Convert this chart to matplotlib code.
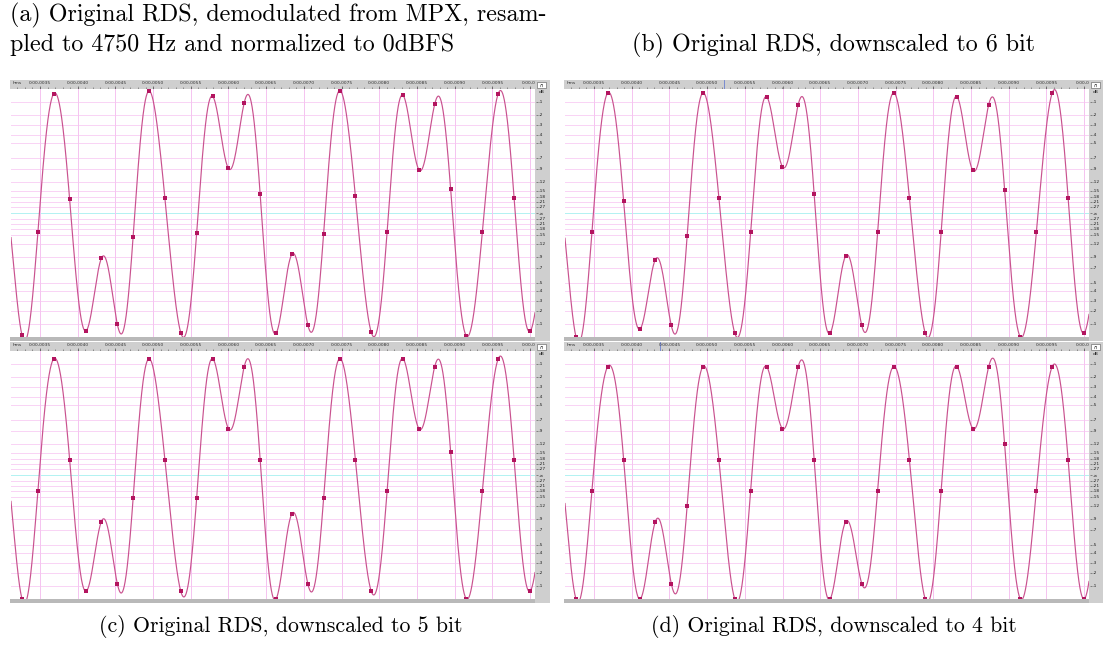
import numpy as np
import matplotlib.pyplot as plt
from matplotlib.patches import Rectangle

W, H = 1103, 646

# RDS samples, 4750 Hz, first sample time in seconds
fs = 4750
t_first = 0.0030511

orig = [0.127, -0.986, -0.153, 0.963, 0.110, -0.952, -0.365, -0.895, -0.190, 0.984,
        0.121, -0.965, -0.164, 0.941, 0.360, 0.890, 0.156, -0.970, -0.333, -0.900,
        -0.166, 0.987, 0.137, -0.962, -0.150, 0.949, 0.350, 0.879, 0.197, -0.992,
        -0.150, 0.963, 0.121, -0.954, -0.156]
bit6 = [0.125, -1.0, -0.15625, 0.96875, 0.09375, -0.9375, -0.375, -0.90625, -0.1875, 0.96875,
        0.125, -0.96875, -0.15625, 0.9375, 0.375, 0.875, 0.15625, -0.96875, -0.34375, -0.90625,
        -0.15625, 0.96875, 0.125, -0.96875, -0.15625, 0.9375, 0.34375, 0.875, 0.1875, -1.0,
        -0.15625, 0.96875, 0.125, -0.96875, -0.15625]
bit5 = [0.125, -1.0, -0.125, 0.9375, 0.125, -0.9375, -0.375, -0.875, -0.1875, 0.9375,
        0.125, -0.9375, -0.1875, 0.9375, 0.375, 0.875, 0.125, -1.0, -0.3125, -0.875,
        -0.1875, 0.9375, 0.125, -0.9375, -0.125, 0.9375, 0.375, 0.875, 0.1875, -1.0,
        -0.125, 0.9375, 0.125, -0.9375, -0.125]
bit4 = [0.125, -1.0, -0.125, 0.875, 0.125, -1.0, -0.375, -0.875, -0.25, 0.875,
        0.125, -1.0, -0.125, 0.875, 0.375, 0.875, 0.125, -1.0, -0.375, -0.875,
        -0.125, 0.875, 0.125, -1.0, -0.125, 0.875, 0.375, 0.875, 0.25, -1.0,
        -0.125, 0.875, 0.125, -1.0, -0.125]

captions = ['(a) Original RDS, demodulated from MPX, resam-\npled to 4750 Hz and normalized to 0dBFS',
            '(b) Original RDS, downscaled to 6 bit',
            '(c) Original RDS, downscaled to 5 bit',
            '(d) Original RDS, downscaled to 4 bit']

# ruler and dB scale of the editor
tick_times = [0.0035, 0.0040, 0.0045, 0.0050, 0.0055, 0.0060, 0.0065,
              0.0070, 0.0075, 0.0080, 0.0085, 0.0090, 0.0095, 0.0100]
tick_labels = ['0:00,0035', '0:00,0040', '0:00,0045', '0:00,0050', '0:00,0055',
               '0:00,0060', '0:00,0065', '0:00,0070', '0:00,0075', '0:00,0080',
               '0:00,0085', '0:00,0090', '0:00,0095', '0:00,01']
db_marks = [-1, -2, -3, -4, -5, -7, -9, -12, -15, -18, -21, -27]

t_left = 0.0035 - 29 / 37.7 * 0.0005
t_right = 0.0035 + 495 / 37.7 * 0.0005

wave_col = '#c9528f'
dot_col = '#b3145f'
grid_col = '#f9d4f5'
vgrid_col = '#f5c4f0'
bar_col = '#cfcfcf'


def rect(x0, y0, x1, y1):
    return [x0 / W, 1 - y1 / H, (x1 - x0) / W, (y1 - y0) / H]


def reconstruct(samples, t):
    tn = t_first + np.arange(len(samples)) / fs
    return np.sum(np.array(samples)[:, None] * np.sinc((t[None, :] - tn[:, None]) * fs), axis=0)


fig = plt.figure(figsize=(W / 100, H / 100), dpi=100)


def panel(dx, dy, samples, cursor=None):
    # ruler
    ru = fig.add_axes(rect(10 + dx, 80 + dy, 535 + dx, 89 + dy))
    ru.set_facecolor(bar_col)
    ru.set_xlim(t_left - 1 / 37.7 * 0.0005, t_right)
    ru.set_ylim(0, 1)
    ru.set_xticks([])
    ru.set_yticks([])
    for s in ru.spines.values():
        s.set_visible(False)
    ru.text(t_left + 0.00002, 0.62, 'hms', fontsize=3.2, ha='left', va='center', color='#333333')
    for tt, lab in zip(tick_times, tick_labels):
        ru.text(tt, 0.62, lab, fontsize=3.2, ha='center', va='center', color='#333333')
    minor = np.arange(0.0032, 0.01005, 0.0001)
    ru.vlines(minor, 0, 0.22, color='#555555', lw=0.4)
    ru.vlines(tick_times, 0, 0.35, color='#555555', lw=0.5)
    if cursor is not None:
        ru.axvline(cursor, color='#6a7fd0', lw=0.6)

    # waveform area
    ax = fig.add_axes(rect(11 + dx, 89 + dy, 535 + dx, 337 + dy))
    ax.set_xlim(t_left, t_right)
    ax.set_ylim(-1, 1)
    ax.set_xticks([])
    ax.set_yticks([])
    for s in ax.spines.values():
        s.set_visible(False)
    for d in db_marks:
        a = 10 ** (d / 20)
        ax.axhline(a, color=grid_col, lw=0.72, zorder=1, antialiased=False)
        ax.axhline(-a, color=grid_col, lw=0.72, zorder=1, antialiased=False)
    ax.axhline(0, color='#b4f2f2', lw=0.72, zorder=1, antialiased=False)
    for tt in tick_times:
        ax.axvline(tt, color=vgrid_col, lw=0.72, zorder=1, antialiased=False)
    t = np.linspace(t_left, t_right, 3000)
    ax.plot(t, reconstruct(samples, t), color=wave_col, lw=0.85, zorder=3)
    tn = t_first + np.arange(len(samples)) / fs
    ax.plot(tn, samples, 's', color=dot_col, ms=2.4, mew=0, zorder=4)

    # bottom scroll strip
    sb = fig.add_axes(rect(10 + dx, 337 + dy, 535 + dx, 341 + dy))
    sb.set_facecolor('#b9b9b9')
    sb.set_xticks([])
    sb.set_yticks([])
    for s in sb.spines.values():
        s.set_visible(False)

    # dB column on the right
    col = fig.add_axes(rect(535 + dx, 80 + dy, 550 + dx, 341 + dy))
    col.set_facecolor(bar_col)
    col.set_xlim(0, 1)
    col.set_ylim(-1 - 4 / 124, 1 + 9 / 124)
    col.set_xticks([])
    col.set_yticks([])
    for s in col.spines.values():
        s.set_visible(False)
    col.add_patch(Rectangle((0.12, 1.005), 0.62, 0.055, facecolor='white',
                            edgecolor='#555555', lw=0.4))
    col.text(0.43, 1.032, '∩', fontsize=3.5, ha='center', va='center')
    col.text(0.28, 0.975, 'dB', fontsize=3.2, ha='left', va='center', color='#222222')
    col.text(0.28, 0, '-∞', fontsize=3.2, ha='left', va='center', color='#222222')
    col.hlines(0, 0.05, 0.22, color='#444444', lw=0.4)
    for d in db_marks:
        a = 10 ** (d / 20)
        for v in (a, -a):
            col.text(0.28, v, str(d), fontsize=3.2, ha='left', va='center', color='#222222')
            col.hlines(v, 0.05, 0.22, color='#444444', lw=0.4)


panel(0, 0, orig)
panel(554, 0, bit6, cursor=0.00523)
panel(0, 262, bit5)
panel(554, 262, bit4, cursor=0.00437)

top_font = dict(fontfamily='cmr10', fontsize=17.3, color='black')
bot_font = dict(fontfamily='cmr10', fontsize=15.7, color='black')
fig.text(10 / W, 1 - 29.5 / H, captions[0], ha='left', va='center', linespacing=1.29, **top_font)
fig.text(834 / W, 1 - 45 / H, captions[1], ha='center', va='center', **top_font)
fig.text(281 / W, 1 - 627 / H, captions[2], ha='center', va='center', **bot_font)
fig.text(834 / W, 1 - 627 / H, captions[3], ha='center', va='center', **bot_font)

fig.savefig('out.png', dpi=100)
